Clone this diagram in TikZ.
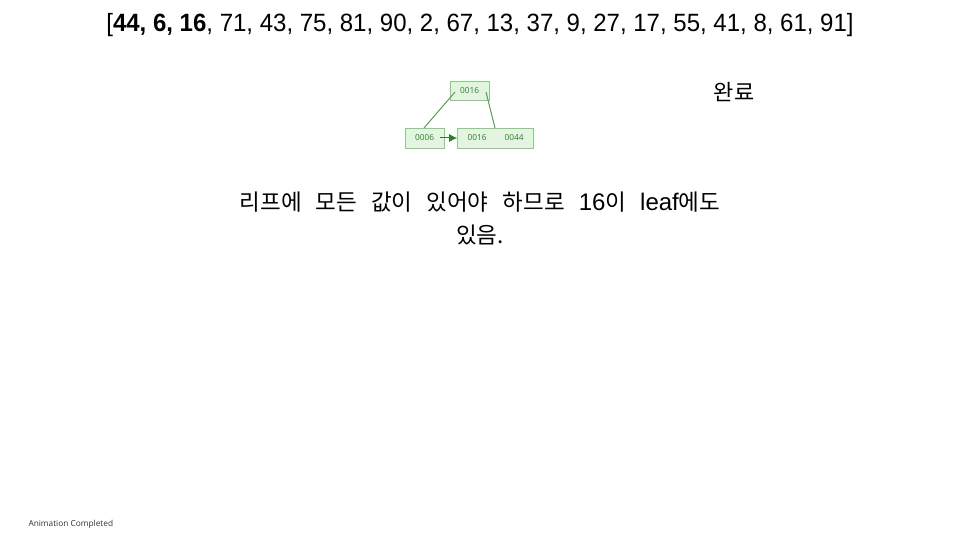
\documentclass[tikz,border=0pt]{standalone}
\usepackage{fontspec}
\setmainfont{Liberation Sans}
\newfontfamily\narrow[FakeStretch=0.96]{Liberation Sans}
\newfontfamily\kr{Noto Sans CJK KR}
\newfontfamily\smallsans{Open Sans}
\usetikzlibrary{arrows.meta}
\definecolor{boxfill}{HTML}{E3F5E1}
\definecolor{boxline}{HTML}{8CCB87}
\definecolor{boxtext}{HTML}{2F7F2C}
\definecolor{edge}{HTML}{5A9E55}
\definecolor{arrowcol}{HTML}{2F7A2B}
\newcommand{\latn}[1]{{\rmfamily\fontsize{24}{24}\selectfont #1}}
\tikzset{
  treebox/.style={draw=boxline, fill=boxfill, line width=0.6pt, inner sep=0pt, font=\smallsans\fontsize{8.3}{9}\selectfont, text=boxtext},
  treetext/.style={font=\smallsans\fontsize{8.3}{9}\selectfont, text=boxtext},
  treeedge/.style={draw=edge, line width=1pt}
}
\begin{document}
\begin{tikzpicture}[x=1pt,y=-1pt]
\useasboundingbox (0,0) rectangle (960,540);
\node (title) at (480,25) {\narrow\fontsize{25}{28}\selectfont [\textbf{44, 6, 16}, 71, 43, 75, 81, 90, 2, 67, 13, 37, 9, 27, 17, 55, 41, 8, 61, 91]};
% tree
\node[treebox, minimum width=39pt, minimum height=19pt] (root) at (469.5,91) {0016};
\node[treebox, minimum width=39pt, minimum height=20pt] (leafa) at (424.5,138) {0006};
\node[treebox, minimum width=76pt, minimum height=20pt] (leafb) at (495.5,138) {};
\node[treetext] (vb1) at (477,138) {0016};
\node[treetext] (vb2) at (514,138) {0044};
\coordinate (rl) at (455,92);
\coordinate (rr) at (486,92);
\coordinate (la) at (424,128);
\coordinate (lb) at (495,128);
\draw[treeedge] (rl) -- (la);
\draw[treeedge] (rr) -- (lb);
\coordinate (aa) at (440,138);
\draw[draw=arrowcol, line width=1pt, -{Latex[length=8pt,width=8pt]}] (aa) -- (leafb.west);
\node[font=\kr\fontsize{22}{24}\selectfont] (done) at (734,92) {완료};
\node[font=\kr\fontsize{22.5}{33}\selectfont, align=center] (note) at (480,219) {\spaceskip=14pt plus 0pt\relax 리프에 모든 값이 있어야 하므로 \latn{16}이 \latn{leaf}에도\\있음.};
\node[font=\smallsans\fontsize{8.3}{10}\selectfont, anchor=west, text=black!80] (anim) at (25,524) {Animation Completed};
\end{tikzpicture}
\end{document}
